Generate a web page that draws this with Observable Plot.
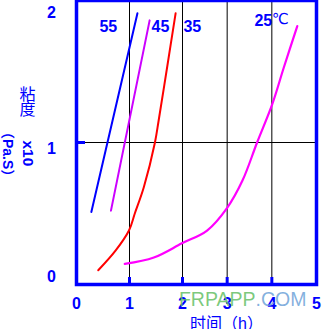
<!DOCTYPE html>
<html><head><meta charset="utf-8">
<script src="https://cdn.jsdelivr.net/npm/d3@7"></script>
<script src="https://cdn.jsdelivr.net/npm/@observablehq/plot@0.6"></script>
<style>body{margin:0;background:#fff}</style>
</head><body><div id="chart"></div>
<script>
const xTicks = [0, 1, 2, 3, 4, 5];
const yTicks = [0, 1, 2];
const gridXValues = [1, 2, 3, 4];
const gridYValues = [1];

// time (h), viscosity (x10 Pa.S)
const series55 = [[0.28, 0.51], [1.15, 1.91]];
const series45 = [[0.65, 0.52], [1.38, 1.86]];
const series35 = [[0.41, 0.10], [0.74, 0.24], [0.99, 0.38], [1.10, 0.50], [1.27, 0.685], [1.48, 1.0], [1.55, 1.155], [1.71, 1.53], [1.87, 1.91]];
const series25 = [[0.91, 0.145], [1.46, 0.19], [1.99, 0.29], [2.55, 0.38], [3.0, 0.54], [3.34, 0.73], [3.67, 1.0], [4.01, 1.27], [4.27, 1.53], [4.57, 1.82]];

const seriesNames = ["55", "45", "35", "25"];
const labelX = [0.60, 1.585, 2.22, 3.81];
const labelY = [1.817, 1.817, 1.817, 1.856];
const unitLabel = ["℃"];
const unitX = [4.19];
const unitY = [1.87];

const BLUE = "#0000ff";
const latin = "Liberation Sans, Arial, sans-serif";
const cjk = "Liberation Sans, Noto Sans CJK SC, sans-serif";

const labels = seriesNames.map((t, i) => ({t, x: labelX[i], y: labelY[i]}));
const units = unitLabel.map((t, i) => ({t, x: unitX[i], y: unitY[i]}));
const line = (data, color, w) => Plot.line(data, {x: d => d[0], y: d => d[1], stroke: color, strokeWidth: w, curve: "catmull-rom"});
const tickText = {tickSize: 0, label: null, fill: BLUE, fontSize: 16, fontWeight: "bold", fontFamily: latin, tickFormat: d => String(d)};

const chart = Plot.plot({
  width: 332,
  height: 329,
  marginLeft: 76,
  marginRight: 16,
  marginTop: 0,
  marginBottom: 45,
  style: {background: "#fff", overflow: "visible"},
  x: {type: "linear", domain: [0, 2, 5], range: [76, 182, 316]},
  y: {type: "linear", domain: [0, 2]},
  marks: [
    Plot.gridX(gridXValues, {stroke: "#000", strokeOpacity: 1, strokeWidth: 1}),
    Plot.gridY(gridYValues, {stroke: "#000", strokeOpacity: 1, strokeWidth: 1}),
    line(series55, "#0000ff", 2),
    line(series45, "#cc00ff", 2),
    line(series35, "#ff0000", 2),
    line(series25, "#ff00ff", 2.2),
    Plot.frame({stroke: BLUE, strokeWidth: 3.5}),
    Plot.axisX(gridXValues, {anchor: "bottom", label: null, tickSize: -7, stroke: BLUE, strokeWidth: 3, fill: "none"}),
    Plot.axisY(gridYValues, {anchor: "left", label: null, tickSize: -9, stroke: BLUE, strokeWidth: 3, fill: "none"}),
    Plot.axisX(xTicks, {anchor: "bottom", tickPadding: 13, ...tickText}),
    Plot.axisY([yTicks[2]], {anchor: "left", tickPadding: 25, textAnchor: "middle", dy: 12, ...tickText}),
    Plot.axisY([yTicks[1]], {anchor: "left", tickPadding: 25, textAnchor: "middle", dy: 6, ...tickText}),
    Plot.axisY([yTicks[0]], {anchor: "left", tickPadding: 25, textAnchor: "middle", dy: -8, ...tickText}),
    Plot.text(labels, {x: "x", y: "y", text: "t", fill: BLUE, fontSize: 16, fontWeight: "bold", fontFamily: latin}),
    Plot.text(units, {x: "x", y: "y", text: "t", fill: BLUE, fontSize: 15, fontFamily: "DejaVu Sans, Noto Sans CJK SC, sans-serif"}),
    // y-axis title (vertical writing)
    Plot.text(["粘\n度"], {frameAnchor: "left", dx: -57, dy: -40, fill: BLUE, fontSize: 16, lineHeight: 0.97, fontFamily: "Noto Sans CJK SC, sans-serif"}),
    Plot.text(["x10"], {frameAnchor: "left", dx: -49, dy: -2, rotate: 90, fill: BLUE, fontSize: 15.5, fontWeight: "bold", fontFamily: latin}),
    Plot.text(["（Pa.S）"], {frameAnchor: "left", dx: -69, dy: -17.5, rotate: 90, fill: BLUE, fontSize: 14, fontWeight: "bold", fontFamily: cjk}),
    // x-axis title
    Plot.text(["时间（h）"], {frameAnchor: "bottom", dx: 30, dy: 44, fill: BLUE, fontSize: 16, fontFamily: cjk}),
    // watermark
    Plot.text(["FRPAPP"], {frameAnchor: "bottom-left", dx: 179, dy: 21.5, textAnchor: "end", fill: "#66bf66", fillOpacity: 0.85, fontSize: 19.5, fontFamily: latin}),
    Plot.text([".COM"], {frameAnchor: "bottom-left", dx: 179, dy: 21.5, textAnchor: "start", fill: "#6ea2d8", fillOpacity: 0.85, fontSize: 19.5, fontFamily: latin})
  ]
});
document.getElementById("chart").appendChild(chart);
</script>
</body></html>
